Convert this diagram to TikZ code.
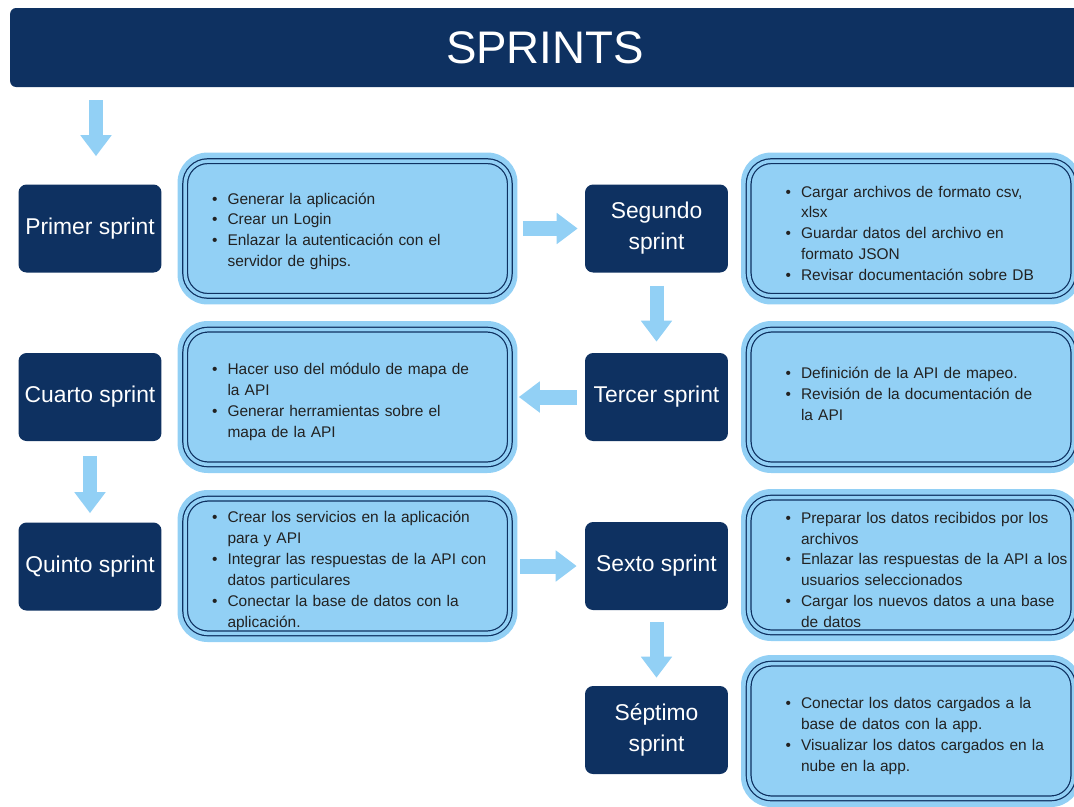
\documentclass[tikz,border=0pt]{standalone}
\usepackage{fontspec}
\setmainfont{Liberation Sans}
\usepackage{enumitem}
\usetikzlibrary{positioning,arrows.meta}
\definecolor{sprintnavy}{HTML}{0E3161}
\definecolor{sprintsky}{HTML}{92D0F5}
\definecolor{sprintink}{HTML}{222222}
\setlist[itemize]{nosep,leftmargin=0.3cm,labelsep=0.2cm,label=\textbullet}

\begin{document}
\begin{tikzpicture}[x=0.02cm,y=-0.02cm,
		header/.style={fill=sprintnavy, rounded corners=0.12cm, minimum width=21.4cm, minimum height=1.58cm, text=white, font=\fontsize{26}{30}\selectfont},
		sprint/.style={fill=sprintnavy, rounded corners=0.16cm, minimum width=2.86cm, minimum height=1.76cm, text=white, align=center, font=\fontsize{13}{17.6}\selectfont},
		panel/.style={fill=sprintsky, rounded corners=0.6cm, minimum width=6.8cm, minimum height=3.04cm},
		rim/.style={draw=sprintnavy, double=sprintsky, double distance=2pt, line width=0.7pt, rounded corners=0.45cm},
		items/.style={anchor=west, text width=6.6cm, align=left, inner sep=0pt, text=sprintink, font=\fontsize{8.8}{11.9}\selectfont},
		flow/.style={draw=sprintsky, line width=0.28cm, -{Triangle[width=0.6cm,length=0.42cm]}},
	]
		\useasboundingbox (0,0) rectangle (1074,806);
		
		\node[header] (title) at (545,47.5) {SPRINTS};
		
		% sprints
		\node[sprint] (p1) at (90,228.5) {Primer sprint};
		\node[sprint] (s2) at (656.5,228.5) {Segundo\\sprint};
		\node[sprint] (s3) at (656.5,397) {Tercer sprint};
		\node[sprint] (p4) at (90,397) {Cuarto sprint};
		\node[sprint] (p5) at (90,566.5) {Quinto sprint};
		\node[sprint] (s6) at (656.5,566) {Sexto sprint};
		\node[sprint] (s7) at (656.5,730) {Séptimo\\sprint};
		
		% panels
		\node[panel] (c1) at (347.5,228.5) {};
		\node[panel] (c2) at (911,228.5) {};
		\node[panel] (c3) at (911,397) {};
		\node[panel] (c4) at (347.5,397) {};
		\node[panel] (c5) at (347.5,566) {};
		\node[panel] (c6) at (911,565) {};
		\node[panel] (c7) at (911,731) {};
		\foreach \c in {c1,c2,c3,c4,c5,c6,c7}
			\draw[rim] ([shift={(8,9)}]\c.north west) rectangle ([shift={(-8,-9)}]\c.south east);
		
		\node[items] (t1) at ([xshift=0.7cm,yshift=0.04cm]c1.west) {\begin{itemize}
				\item Generar la aplicación
				\item Crear un Login
				\item Enlazar la autenticación con el\\servidor de ghips.
			\end{itemize}};
		\node[items] (t2) at ([xshift=0.9cm]c2.west) {\begin{itemize}
				\item Cargar archivos de formato csv,\\xlsx
				\item Guardar datos del archivo en\\formato JSON
				\item Revisar documentación sobre DB
			\end{itemize}};
		\node[items] (t3) at ([xshift=0.9cm,yshift=0.16cm]c3.west) {\begin{itemize}
				\item Definición de la API de mapeo.
				\item Revisión de la documentación de\\la API
			\end{itemize}};
		\node[items] (t4) at ([xshift=0.7cm]c4.west) {\begin{itemize}
				\item Hacer uso del módulo de mapa de\\la API
				\item Generar herramientas sobre el\\mapa de la API
			\end{itemize}};
		\node[items] (t5) at ([xshift=0.7cm]c5.west) {\begin{itemize}
				\item Crear los servicios en la aplicación\\para y API
				\item Integrar las respuestas de la API con\\datos particulares
				\item Conectar la base de datos con la\\aplicación.
			\end{itemize}};
		\node[items] (t6) at ([xshift=0.9cm]c6.west) {\begin{itemize}
				\item Preparar los datos recibidos por los\\archivos
				\item Enlazar las respuestas de la API a los\\usuarios seleccionados
				\item Cargar los nuevos datos a una base\\de datos
			\end{itemize}};
		\node[items] (t7) at ([xshift=0.9cm]c7.west) {\begin{itemize}
				\item Conectar los datos cargados a la\\base de datos con la app.
				\item Visualizar los datos cargados en la\\nube en la app.
			\end{itemize}};
		
		% arrows
		\draw[flow, shorten <=0.26cm, shorten >=0.56cm] ([xshift=0.12cm]title.south -| p1.north) -- ([xshift=0.12cm]p1.north);
		\draw[flow, line width=0.3cm, shorten <=0.1cm, shorten >=0.14cm] (c1.east) -- (s2.west);
		\draw[flow, shorten <=0.26cm, shorten >=0.22cm] (s2.south) -- (s3.north);
		\draw[flow, line width=0.3cm, shorten <=0.16cm, shorten >=0.02cm] (s3.west) -- (c4.east);
		\draw[flow, shorten <=0.3cm, shorten >=0.18cm] (p4.south) -- (p5.north);
		\draw[flow, line width=0.3cm, shorten <=0.04cm, shorten >=0.16cm] (c5.east) -- (s6.west);
		\draw[flow, shorten <=0.24cm, shorten >=0.16cm] (s6.south) -- (s7.north);
	\end{tikzpicture}
\end{document}
